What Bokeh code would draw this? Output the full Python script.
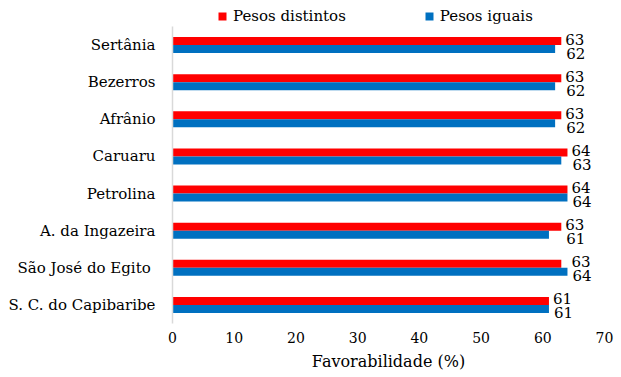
from bokeh.plotting import figure
from bokeh.models import ColumnDataSource, Range1d, Legend, LegendItem, LabelSet, FixedTicker
from bokeh.core.properties import value
from bokeh.transform import dodge
from bokeh.embed import file_html
from bokeh.resources import INLINE

cities = ["Sertânia", "Bezerros", "Afrânio", "Caruaru", "Petrolina",
          "A. da Ingazeira", "São José do Egito ", "S. C. do Capibaribe"]
pesos_distintos = [63, 63, 63, 64, 64, 63, 63, 61]
pesos_iguais = [62, 62, 62, 63, 64, 61, 64, 61]
x_ticks = [0, 10, 20, 30, 40, 50, 60, 70]

RED = "#FF0000"
BLUE = "#0070C0"
FONT = "DejaVu Serif"

n = len(cities)
ypos = [n - 1 - i for i in range(n)]

src = ColumnDataSource(dict(
    city=cities,
    ypos=ypos,
    dist=pesos_distintos,
    igu=pesos_iguais,
    lx=[max(a, b) for a, b in zip(pesos_distintos, pesos_iguais)],
    dist_txt=[str(v) for v in pesos_distintos],
    igu_txt=[str(v) for v in pesos_iguais],
))

p = figure(y_range=Range1d(-0.5, n - 0.5 + 0.7),
           x_range=Range1d(0, 70),
           frame_width=432, frame_height=323,
           min_border_left=172, min_border_right=17, min_border_top=0, min_border_bottom=54,
           output_backend="svg", toolbar_location=None, outline_line_color=None)

r_red = p.hbar(y=dodge("ypos", 0.108), right="dist", left=0, height=0.215,
               source=src, fill_color=RED, line_color=None)
r_blue = p.hbar(y=dodge("ypos", -0.108), right="igu", left=0, height=0.215,
                source=src, fill_color=BLUE, line_color=None)

lab_red = LabelSet(x="lx", y=dodge("ypos", 0.16), text="dist_txt", source=src,
                   x_offset=4, text_align="left", text_baseline="middle",
                   text_font=value(FONT), text_font_size=value("15px"), text_color="#000000")
lab_blue = LabelSet(x="lx", y=dodge("ypos", -0.215), text="igu_txt", source=src,
                    x_offset=5, text_align="left", text_baseline="middle",
                    text_font=value(FONT), text_font_size=value("15px"), text_color="#000000")
p.add_layout(lab_red)
p.add_layout(lab_blue)

p.xgrid.grid_line_color = None
p.ygrid.grid_line_color = None

p.xaxis.ticker = FixedTicker(ticks=x_ticks)
p.xaxis.axis_line_color = None
p.xaxis.major_tick_line_color = None
p.xaxis.minor_tick_line_color = None
p.xaxis.major_tick_out = 0
p.xaxis.major_label_standoff = 8
p.xaxis.major_label_text_font = FONT
p.xaxis.major_label_text_font_size = "14px"
p.xaxis.major_label_text_color = "#000000"
p.xaxis.axis_label = "Favorabilidade (%)"
p.xaxis.axis_label_text_font = FONT
p.xaxis.axis_label_text_font_size = "16px"
p.xaxis.axis_label_text_font_style = "normal"
p.xaxis.axis_label_text_color = "#000000"
p.xaxis.axis_label_standoff = 6

p.yaxis.ticker = FixedTicker(ticks=ypos)
p.yaxis.major_label_overrides = {y: c for y, c in zip(ypos, cities)}
p.yaxis.bounds = (-0.5, n - 0.5)
p.yaxis.axis_line_color = "#D9D9D9"
p.yaxis.axis_line_width = 1.5
p.yaxis.major_tick_line_color = None
p.yaxis.minor_tick_line_color = None
p.yaxis.major_tick_out = 0
p.yaxis.major_label_standoff = 17
p.yaxis.major_label_text_font = FONT
p.yaxis.major_label_text_font_size = "15px"
p.yaxis.major_label_text_color = "#000000"

legend = Legend(items=[LegendItem(label="Pesos distintos", renderers=[r_red]),
                       LegendItem(label="Pesos iguais", renderers=[r_blue])],
                orientation="horizontal", location=(45, 298),
                glyph_width=10, glyph_height=10, label_standoff=6, spacing=78,
                padding=0, margin=0, border_line_color=None, background_fill_alpha=0,
                label_text_font=FONT, label_text_font_size="15px", label_text_color="#000000")
p.add_layout(legend)

open("out.html", "w").write(file_html(p, INLINE))
